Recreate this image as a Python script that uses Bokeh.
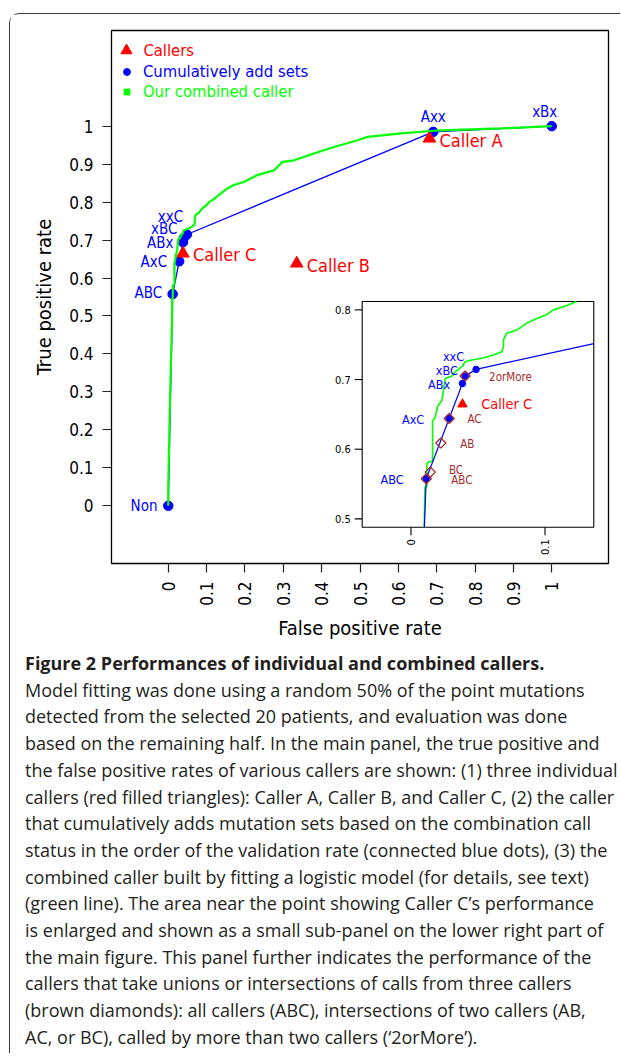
import math
import html
from bokeh.plotting import figure
from bokeh.layouts import column
from bokeh.models import (Range1d, FixedTicker, Legend, LegendItem, Div,
                          ColumnDataSource, CustomJSTickFormatter)
from bokeh.core.properties import value
from bokeh.embed import file_html
from bokeh.resources import INLINE

# ---------------- data ----------------
BLUE_LABELS = ["Non", "ABC", "AxC", "ABx", "xBC", "xxC", "Axx", "xBx"]
BLUE_FPR = [0.0, 0.0114, 0.0285, 0.0384, 0.0404, 0.0486, 0.691, 1.0]
BLUE_TPR = [0.0, 0.5576, 0.644, 0.6944, 0.705, 0.7146, 0.985, 1.0]

CALLER_LABELS = ["Caller A", "Caller B", "Caller C"]
CALLER_FPR = [0.681, 0.335, 0.0384]
CALLER_TPR = [0.9676, 0.6384, 0.6646]

SET_LABELS = ["ABC", "BC", "AB", "AC", "2orMore"]
SET_FPR = [0.0114, 0.0144, 0.0223, 0.0285, 0.0404]
SET_TPR = [0.5576, 0.5671, 0.6089, 0.644, 0.705]

GREEN_FPR = [0.0, 0.0, 0.005, 0.0099, 0.0104, 0.0119, 0.0119, 0.0131, 0.0161, 0.0161,
             0.0181, 0.0198, 0.0213, 0.0231, 0.0243, 0.0255, 0.0305, 0.033, 0.038, 0.0404,
             0.0454, 0.0529, 0.0615, 0.0678, 0.069, 0.069, 0.0715, 0.0789, 0.0864, 0.0913,
             0.101, 0.1062, 0.116, 0.126, 0.154, 0.171, 0.197, 0.232, 0.276, 0.298,
             0.328, 0.38, 0.432, 0.494, 0.52, 0.607, 0.694, 0.868, 1.0]
GREEN_TPR = [0.0, 0.05, 0.3, 0.488, 0.5455, 0.5465, 0.579, 0.5815, 0.583, 0.6406,
             0.646, 0.661, 0.6656, 0.67, 0.685, 0.7016, 0.705, 0.711, 0.7184, 0.7256,
             0.728, 0.7305, 0.7352, 0.74, 0.747, 0.7568, 0.7665, 0.771, 0.781, 0.7856,
             0.793, 0.8, 0.8058, 0.814, 0.836, 0.845, 0.853, 0.871, 0.884, 0.906,
             0.91, 0.928, 0.945, 0.963, 0.972, 0.981, 0.988, 0.994, 1.0]

XTICKS = [0, 0.1, 0.2, 0.3, 0.4, 0.5, 0.6, 0.7, 0.8, 0.9, 1]
XTICK_LABELS = ["0", "0.1", "0.2", "0.3", "0.4", "0.5", "0.6", "0.7", "0.8", "0.9", "1"]
YTICKS = [0, 0.1, 0.2, 0.3, 0.4, 0.5, 0.6, 0.7, 0.8, 0.9, 1]
YTICK_LABELS = ["0", "0.1", "0.2", "0.3", "0.4", "0.5", "0.6", "0.7", "0.8", "0.9", "1"]
INSET_XTICKS = [0, 0.1]
INSET_XTICK_LABELS = ["0", "0.1"]
INSET_YTICKS = [0.5, 0.6, 0.7, 0.8]
INSET_YTICK_LABELS = ["0.5", "0.6", "0.7", "0.8"]

LEGEND_LABELS = ["Callers", "Cumulatively add sets", "Our combined caller"]
X_TITLE = "False positive rate"
Y_TITLE = "True positive rate"

CAPTION_TITLE = "Figure 2 Performances of individual and combined callers."
CAPTION_LINES = [
    "Model fitting was done using a random 50% of the point mutations",
    "detected from the selected 20 patients, and evaluation was done",
    "based on the remaining half. In the main panel, the true positive and",
    "the false positive rates of various callers are shown: (1) three individual",
    "callers (red filled triangles): Caller A, Caller B, and Caller C, (2) the caller",
    "that cumulatively adds mutation sets based on the combination call",
    "status in the order of the validation rate (connected blue dots), (3) the",
    "combined caller built by fitting a logistic model (for details, see text)",
    "(green line). The area near the point showing Caller C\u2019s performance",
    "is enlarged and shown as a small sub-panel on the lower right part of",
    "the main figure. This panel further indicates the performance of the",
    "callers that take unions or intersections of calls from three callers",
    "(brown diamonds): all callers (ABC), intersections of two callers (AB,",
    "AC, or BC), called by more than two callers (\u20182orMore\u2019).",
]

# ---------------- layout / style ----------------
FONT = "DejaVu Sans Condensed, DejaVu Sans"
CAP_FONT = "Open Sans"
RED, BLUE, GREEN, BROWN = "#FF0000", "#0000FF", "#00FF00", "#A52A2A"
BOX_COLOR = "#3a3a3a"

MAIN_X = (-0.148, 1.148)
MAIN_Y = (-0.152, 1.252)
INSET_X = (-0.0364, 0.1364)
INSET_Y = (0.488, 0.812)
INSET_TARGET_X = (0.5057, 1.1096)
INSET_TARGET_Y = (-0.0565, 0.5381)

W = 610
MAIN_H = 634
CAP_H = 405
BL, BR, BT, BB = 101, 12, 16, 85

p = figure(width=W, height=MAIN_H, x_range=Range1d(*MAIN_X), y_range=Range1d(*MAIN_Y),
           output_backend="svg", toolbar_location=None,
           min_border_left=BL, min_border_right=BR, min_border_top=BT, min_border_bottom=BB)
p.xgrid.visible = False
p.ygrid.visible = False
p.outline_line_color = "black"
p.outline_line_width = 1.3
p.background_fill_color = "white"
p.border_fill_color = "white"

for ax, ticks, labels in ((p.xaxis[0], XTICKS, XTICK_LABELS), (p.yaxis[0], YTICKS, YTICK_LABELS)):
    ax.ticker = FixedTicker(ticks=ticks)
    ax.formatter = CustomJSTickFormatter(args=dict(labels=labels), code="return labels[index];")
    ax.minor_tick_line_color = None
    ax.major_tick_in = 0
    ax.major_tick_out = 9
    ax.major_tick_line_color = "#222222"
    ax.major_tick_line_width = 1.2
    ax.axis_line_color = None
    ax.major_label_text_font = FONT
    ax.major_label_text_font_size = "17px"
    ax.major_label_text_color = "black"
    ax.major_label_standoff = 9
    ax.axis_label_text_font = FONT
    ax.axis_label_text_font_size = "20px"
    ax.axis_label_text_font_style = "normal"
    ax.axis_label_text_color = "black"
p.xaxis.axis_label = X_TITLE
p.yaxis.axis_label = Y_TITLE
p.xaxis.axis_label_standoff = 7
p.yaxis.axis_label_standoff = 10
p.xaxis.major_label_orientation = math.pi / 2


def put_labels(target, xs, ys, texts, offsets, align, color, size):
    sel = [i for i, t in enumerate(texts) if t in offsets]
    if not sel:
        return
    src = ColumnDataSource(dict(
        x=[xs[i] for i in sel], y=[ys[i] for i in sel], text=[texts[i] for i in sel],
        dx=[offsets[texts[i]][0] for i in sel], dy=[offsets[texts[i]][1] for i in sel]))
    target.text(x="x", y="y", text="text", x_offset="dx", y_offset="dy", source=src,
                text_align=align, text_baseline="middle", text_color=color,
                text_font=value(FONT), text_font_size=value(size))


def clip_polyline(xs, ys, x0, x1, y0, y1):
    out_x, out_y = [], []
    cx, cy = [], []
    for i in range(len(xs) - 1):
        ax_, ay_, bx_, by_ = xs[i], ys[i], xs[i + 1], ys[i + 1]
        dx, dy = bx_ - ax_, by_ - ay_
        t0, t1, ok = 0.0, 1.0, True
        for pp, qq in ((-dx, ax_ - x0), (dx, x1 - ax_), (-dy, ay_ - y0), (dy, y1 - ay_)):
            if pp == 0:
                if qq < 0:
                    ok = False
                    break
            else:
                t = qq / pp
                if pp < 0:
                    if t > t1:
                        ok = False
                        break
                    t0 = max(t0, t)
                else:
                    if t < t0:
                        ok = False
                        break
                    t1 = min(t1, t)
        if not ok:
            if cx:
                out_x.append(cx); out_y.append(cy); cx, cy = [], []
            continue
        sx, sy = ax_ + t0 * dx, ay_ + t0 * dy
        ex, ey = ax_ + t1 * dx, ay_ + t1 * dy
        if not cx or t0 > 0:
            if cx:
                out_x.append(cx); out_y.append(cy)
            cx, cy = [sx], [sy]
        cx.append(ex); cy.append(ey)
        if t1 < 1:
            out_x.append(cx); out_y.append(cy); cx, cy = [], []
    if cx:
        out_x.append(cx); out_y.append(cy)
    return out_x, out_y


# ---------------- main panel ----------------
p.line(BLUE_FPR, BLUE_TPR, line_color=BLUE, line_width=1.3)
blue_r = p.scatter(BLUE_FPR, BLUE_TPR, size=9.5, fill_color=BLUE, line_color=BLUE)
red_r = p.scatter(CALLER_FPR, CALLER_TPR, marker="triangle", size=12.5, fill_color=RED, line_color=RED)
p.line(GREEN_FPR, GREEN_TPR, line_color=GREEN, line_width=2.2)
# legend key for the green curve (zero-size markers: only the legend shows the square)
green_key = p.scatter(GREEN_FPR[:1], GREEN_TPR[:1], marker="square", size=0,
                      fill_color=GREEN, line_color=None)

main_blue_right = {"Non": (-10.8, 0), "ABC": (-10.5, -1), "AxC": (-12, 1), "ABx": (-9.5, 0.7),
                   "xBC": (-6.3, -9), "xxC": (-3.7, -17.7)}
main_blue_center = {"Axx": (0, -15), "xBx": (-7, -14)}
main_red = {"Caller A": (10, 1.7), "Caller B": (10, 1.7), "Caller C": (10, 0.6)}
put_labels(p, BLUE_FPR, BLUE_TPR, BLUE_LABELS, main_blue_right, "right", BLUE, "15px")
put_labels(p, BLUE_FPR, BLUE_TPR, BLUE_LABELS, main_blue_center, "center", BLUE, "15px")
put_labels(p, CALLER_FPR, CALLER_TPR, CALLER_LABELS, main_red, "left", RED, "18px")

# legend (three one-item legends, each with its own text colour); positions relative to frame
leg_specs = [(red_r, LEGEND_LABELS[0], RED, 28, 20.0),
             (blue_r, LEGEND_LABELS[1], BLUE, 17, 41.0),
             (green_key, LEGEND_LABELS[2], GREEN, 17, 61.5)]
for rend, lab, col, S, cy_frame in leg_specs:
    gx = 15.4
    lx = gx - S / 2
    standoff = int(round(32.0 - (lx + S)))
    Hh = max(S, 20)
    c = 533.0 - cy_frame
    leg = Legend(items=[LegendItem(label=lab, renderers=[rend])], location=(lx, c - Hh / 2),
                 padding=0, margin=0, spacing=0, border_line_color=None, background_fill_alpha=0,
                 glyph_width=S, glyph_height=S, label_standoff=standoff, label_height=20,
                 label_text_font=FONT, label_text_font_size="16.5px", label_text_color=col)
    p.add_layout(leg)

# ---------------- inset ----------------
ins = p.subplot(x_source=Range1d(*INSET_X), y_source=Range1d(*INSET_Y),
                x_target=Range1d(*INSET_TARGET_X), y_target=Range1d(*INSET_TARGET_Y))
ins.quad(left=[INSET_X[0]], right=[INSET_X[1]], bottom=[INSET_Y[0]], top=[INSET_Y[1]],
         fill_color="white", line_color="black", line_width=1.1)
ins.ray(x=[INSET_X[0]] * len(INSET_YTICKS), y=INSET_YTICKS, length=7.5, length_units="screen",
        angle=math.pi, line_color="black", line_width=1.1)
ins.ray(x=INSET_XTICKS, y=[INSET_Y[0]] * len(INSET_XTICKS), length=8, length_units="screen",
        angle=-math.pi / 2, line_color="black", line_width=1.1)
ins.text(x=[INSET_X[0]] * len(INSET_YTICKS), y=INSET_YTICKS, text=INSET_YTICK_LABELS,
         x_offset=-11.5, text_align="right", text_baseline="middle", text_color="black",
         text_font=value(FONT), text_font_size=value("11px"))
ins.text(x=INSET_XTICKS, y=[INSET_Y[0]] * len(INSET_XTICKS), text=INSET_XTICK_LABELS,
         y_offset=12, angle=math.pi / 2, text_align="right", text_baseline="middle",
         text_color="black", text_font=value(FONT), text_font_size=value("11px"))

gx_, gy_ = clip_polyline(GREEN_FPR, GREEN_TPR, *INSET_X, *INSET_Y)
ins.multi_line(xs=gx_, ys=gy_, line_color=GREEN, line_width=1.6)
bx_, by_ = clip_polyline(BLUE_FPR, BLUE_TPR, *INSET_X, *INSET_Y)
ins.multi_line(xs=bx_, ys=by_, line_color=BLUE, line_width=1.2)


def in_inset(x, y):
    return INSET_X[0] <= x <= INSET_X[1] and INSET_Y[0] <= y <= INSET_Y[1]


ib = [i for i in range(len(BLUE_FPR)) if in_inset(BLUE_FPR[i], BLUE_TPR[i])]
ins.scatter([BLUE_FPR[i] for i in ib], [BLUE_TPR[i] for i in ib], size=6.5,
            fill_color=BLUE, line_color=BLUE)
ins.scatter(SET_FPR, SET_TPR, marker="square", angle=math.pi / 4, size=7.2,
            fill_color=None, line_color=BROWN, line_width=1.3)
ic = [i for i in range(len(CALLER_FPR)) if in_inset(CALLER_FPR[i], CALLER_TPR[i])]
ins.scatter([CALLER_FPR[i] for i in ic], [CALLER_TPR[i] for i in ic], marker="triangle",
            size=9.5, fill_color=RED, line_color=RED)

inset_blue = {"xxC": (-12, -13), "xBC": (-7.3, -5.5), "ABx": (-12.3, 0.7),
              "AxC": (-25, 0.5), "ABC": (-22.7, 0.5)}
inset_sets = {"2orMore": (24, 1.2), "AC": (18.3, 0.7), "AB": (19.4, 0.6),
              "BC": (18.7, -2.2), "ABC": (25, 1.2)}
inset_red = {"Caller C": (18.7, -0.7)}
put_labels(ins, [BLUE_FPR[i] for i in ib], [BLUE_TPR[i] for i in ib], [BLUE_LABELS[i] for i in ib],
           inset_blue, "right", BLUE, "12.5px")
put_labels(ins, SET_FPR, SET_TPR, SET_LABELS, inset_sets, "left", BROWN, "11.5px")
put_labels(ins, [CALLER_FPR[i] for i in ic], [CALLER_TPR[i] for i in ic],
           [CALLER_LABELS[i] for i in ic], inset_red, "left", RED, "14.5px")

# ---------------- caption ----------------
cap_html = (
    '<div style="font-family:\'Open Sans\';font-size:18px;line-height:26.7px;'
    'color:#231f20;white-space:nowrap;margin:0;padding:2px 0 0 15px;">'
    '<b>' + html.escape(CAPTION_TITLE) + '</b><br>'
    + '<br>'.join(html.escape(t) for t in CAPTION_LINES)
    + '</div>'
)
cap = Div(text=cap_html, width=W, height=CAP_H, margin=0)

layout = column(p, cap, spacing=0, margin=(13, 0, 0, 9),
                styles={"border-top": f"1.3px solid {BOX_COLOR}",
                        "border-left": f"1.3px solid {BOX_COLOR}",
                        "border-top-left-radius": "10px"})

open("out.html", "w").write(file_html(layout, INLINE))
